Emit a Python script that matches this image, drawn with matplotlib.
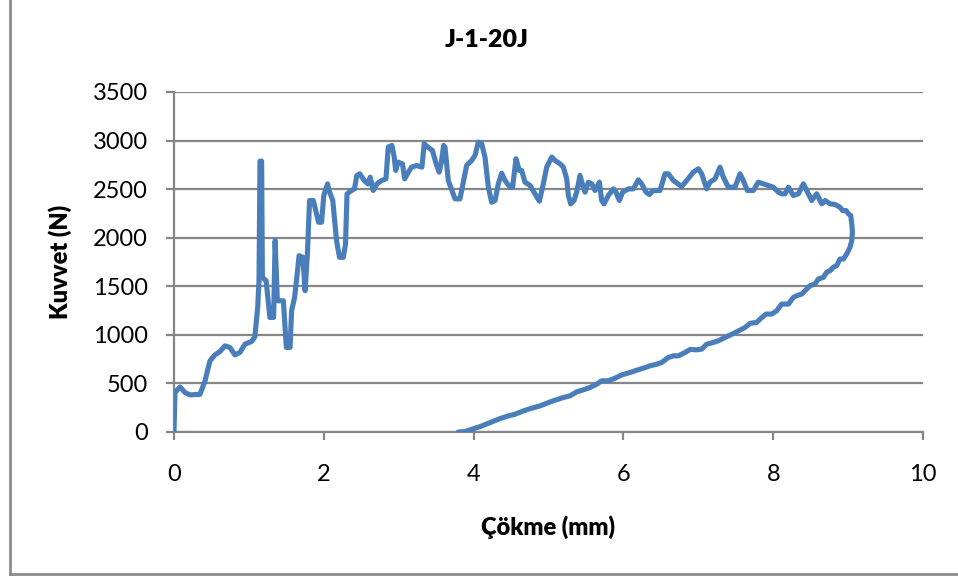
import numpy as np
import matplotlib.pyplot as plt
from matplotlib.lines import Line2D

plt.rcParams['font.family'] = ['Lato', 'DejaVu Sans']

# Load-displacement curve, loading then unloading
x_mm = [0, 0.013, 0.08, 0.147, 0.214, 0.347, 0.414, 0.48, 0.547, 0.614, 0.68,
        0.747, 0.814, 0.88, 0.947, 1.037, 1.08, 1.117, 1.135, 1.148, 1.17,
        1.18, 1.23, 1.28, 1.33, 1.35, 1.38, 1.46, 1.50, 1.55, 1.57, 1.61,
        1.64, 1.67, 1.72, 1.75, 1.78, 1.81, 1.86, 1.93, 1.97, 2.0, 2.05,
        2.07, 2.12, 2.17, 2.21, 2.26, 2.29, 2.31, 2.37, 2.41, 2.44, 2.48,
        2.54, 2.59, 2.62, 2.66, 2.71, 2.77, 2.83, 2.86, 2.91, 2.94, 2.96,
        2.99, 3.05, 3.08, 3.13, 3.17, 3.24, 3.31, 3.34, 3.39, 3.45, 3.50,
        3.54, 3.57, 3.60,
        3.618, 3.662, 3.752, 3.818, 3.863, 3.907, 3.974, 4.019, 4.063, 4.108,
        4.152, 4.197, 4.241, 4.286, 4.330, 4.375, 4.419, 4.486, 4.521, 4.566,
        4.610, 4.642, 4.686, 4.753, 4.820, 4.878, 4.931, 4.976, 5.043, 5.087,
        5.154, 5.198, 5.243, 5.265, 5.296, 5.341, 5.376, 5.421, 5.457, 5.488,
        5.532, 5.577, 5.621, 5.679, 5.710, 5.741, 5.799, 5.866, 5.901, 5.946,
        5.990, 6.066, 6.133, 6.199, 6.244, 6.302, 6.346, 6.400, 6.489,
        6.556, 6.600, 6.667, 6.778, 6.845, 6.934, 7.001, 7.045, 7.112, 7.156,
        7.223, 7.290, 7.334, 7.401, 7.490, 7.557, 7.601, 7.655, 7.735, 7.801,
        7.868, 7.935, 8.002, 8.069, 8.113, 8.158, 8.203, 8.269, 8.336, 8.403,
        8.447, 8.514, 8.581, 8.648, 8.692, 8.759, 8.826, 8.892, 8.928, 8.973,
        9.004, 9.035, 9.049, 9.058,
        9.049, 9.026, 8.982, 8.937, 8.892, 8.848, 8.803, 8.759, 8.714, 8.670,
        8.603, 8.558, 8.492, 8.447, 8.380, 8.314, 8.269, 8.203, 8.113, 8.047,
        7.980, 7.904, 7.824, 7.779, 7.690, 7.624, 7.557, 7.468, 7.357, 7.268,
        7.201, 7.112, 7.045, 6.979, 6.890, 6.823, 6.733, 6.667, 6.600, 6.511,
        6.444, 6.355, 6.266, 6.177, 6.088, 5.977, 5.888, 5.799, 5.710, 5.643,
        5.554, 5.465, 5.376, 5.287, 5.198, 5.087, 4.998, 4.887, 4.775, 4.664,
        4.553, 4.464, 4.352, 4.219, 4.085, 3.974, 3.885, 3.796]

kuvvet_n = [0, 406, 464, 406, 382, 388, 526, 732, 794, 829, 887,
            870, 794, 818, 904, 932, 980, 1282, 1557, 2788, 2788,
            1592, 1557, 1179, 1179, 1970, 1351, 1351, 870, 870, 1248, 1385,
            1592, 1815, 1798, 1454, 1815, 2383, 2383, 2159, 2159, 2434, 2554,
            2486, 2383, 1970, 1798, 1798, 1935, 2451, 2486, 2503, 2640, 2658,
            2589, 2554, 2623, 2486, 2554, 2589, 2606, 2933, 2950, 2829, 2692,
            2778, 2761, 2606, 2675, 2726, 2743, 2726, 2967, 2933, 2898, 2761,
            2675, 2778, 2950,
            2933, 2589, 2400, 2400, 2572, 2744, 2795, 2847, 2984, 2967,
            2830, 2520, 2365, 2383, 2555, 2664, 2589, 2520, 2520, 2813,
            2692, 2692, 2572, 2538, 2452, 2376, 2555, 2727, 2830, 2795,
            2761, 2727, 2607, 2435, 2349, 2383, 2469, 2641, 2538, 2469,
            2572, 2555, 2486, 2572, 2383, 2349, 2435, 2503, 2469, 2383,
            2469, 2503, 2503, 2596, 2555, 2469, 2445, 2486, 2486,
            2658, 2658, 2589, 2527, 2589, 2675, 2710, 2658, 2503, 2572,
            2606, 2726, 2623, 2520, 2520, 2658, 2589, 2486, 2486, 2572,
            2555, 2538, 2520, 2469, 2452, 2452, 2520, 2435, 2452, 2555,
            2486, 2383, 2452, 2349, 2383, 2349, 2342, 2314, 2280, 2280,
            2246, 2229, 2143, 2057,
            1971, 1902, 1833, 1781, 1781, 1713, 1696, 1661, 1644, 1592,
            1575, 1524, 1506, 1472, 1420, 1403, 1386, 1317, 1317, 1248,
            1214, 1214, 1162, 1128, 1118, 1076, 1049, 1014, 973, 939,
            922, 904, 853, 846, 850, 818, 784, 784, 767, 715,
            698, 681, 657, 636, 612, 588, 554, 527, 527, 492,
            458, 434, 413, 372, 355, 327, 303, 269, 245, 217,
            183, 166, 138, 97, 55, 28, 4, 0]

x_ticks = [0, 2, 4, 6, 8, 10]
y_ticks = [0, 500, 1000, 1500, 2000, 2500, 3000, 3500]

W, H = 958, 579
fig = plt.figure(figsize=(W / 100, H / 100), dpi=100)
ax = fig.add_axes([174 / W, 1 - 432 / H, 749 / W, 340 / H])

grid_c = '#868686'
ax.plot(x_mm, kuvvet_n, color='#4A7EBB', lw=3.7, solid_joinstyle='round',
        solid_capstyle='round', zorder=3)

ax.set_xlim(0, 10)
ax.set_ylim(0, 3500)
ax.set_xticks(x_ticks)
ax.set_yticks(y_ticks)
ax.yaxis.grid(True, color=grid_c, lw=1.6)
ax.set_axisbelow(True)
for s in ['top', 'right']:
    ax.spines[s].set_visible(False)
for s in ['left', 'bottom']:
    ax.spines[s].set_color(grid_c)
    ax.spines[s].set_linewidth(1.6)
ax.tick_params(axis='both', color=grid_c, width=1.6, length=6, labelsize=17)
ax.tick_params(axis='x', pad=17)
ax.tick_params(axis='y', pad=13)

fig.text(487 / W, 1 - 40 / H, 'J-1-20J', ha='center', va='center',
         fontsize=18, fontweight='heavy')
fig.text(548 / W, 1 - 527 / H, 'Çökme (mm)', ha='center', va='center',
         fontsize=17, fontweight='heavy')
fig.text(60 / W, 1 - 262 / H, 'Kuvvet (N)', ha='center', va='center',
         rotation=90, fontsize=17, fontweight='heavy')

# outer chart border
fig.add_artist(Line2D([9.5 / W, 9.5 / W], [1 - 574 / H, 1], color='#8c8c8c',
                      lw=2, transform=fig.transFigure))
fig.add_artist(Line2D([9.5 / W, 1], [1 - 574 / H, 1 - 574 / H], color='#8c8c8c',
                      lw=2, transform=fig.transFigure))

fig.savefig('out.png', dpi=100)
